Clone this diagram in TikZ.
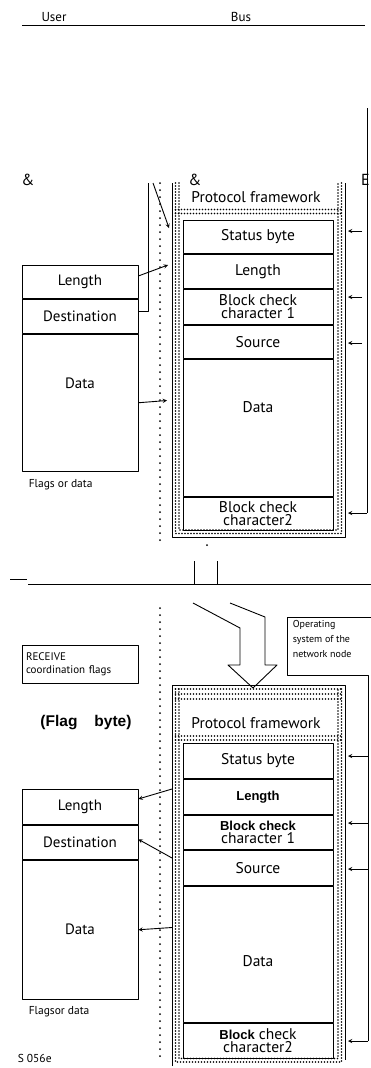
\documentclass[tikz,border=0pt]{standalone}
\usepackage{fontspec}
\setmainfont{PT Sans}
\newfontfamily\arialfont{Liberation Sans}
\usetikzlibrary{positioning}
\tikzset{
  field/.style={draw,minimum width=150pt,inner sep=0pt,align=center,font=\fontsize{15.5}{13.5}\selectfont},
  ufield/.style={draw,minimum width=116pt,inner sep=0pt,align=center,font=\fontsize{15}{13.5}\selectfont},
  dotband/.style={line width=1.9pt,line cap=round,dash pattern=on 0pt off 3pt},
  sepline/.style={line width=2pt,line cap=round,dash pattern=on 0pt off 7pt},
  small/.style={font=\fontsize{11.5}{15}\selectfont},
  amp/.style={font=\fontsize{16}{16}\selectfont}
}
\begin{document}
\begin{tikzpicture}[x=1pt,y=-1pt,>=stealth,line width=0.9pt,line join=round]
\useasboundingbox (0,0) rectangle (371,1068);
\node[small,font=\fontsize{13}{13}\selectfont] (user) at (54,17) {User};
\node[small,font=\fontsize{13}{13}\selectfont] (bus) at (241,17) {Bus};
\draw (22,25) -- (365,25);
\node[amp] (amp1) at (28,180) {\&};
\node[amp] (amp2) at (195,180) {\&};
\node[amp] (ech) at (365.5,180) {E};

% upper frame
\draw (172,183) -- (172,537) -- (345,537) -- (345,183);
\foreach \o in {0,3.5}
  \draw[dotband] (175.5+\o,183) -- (175.5+\o,533.5-\o) -- (341.5-\o,533.5-\o) -- (341.5-\o,183);
\foreach \y in {209.5,213.5}
  \draw[dotband] (175.5,\y) -- (341.5,\y);
\node[field,draw=none] (uproto) at (256,197) {Protocol framework};
\node[field,minimum height=33pt,anchor=north] (ustat) at (258,220) {Status byte};
\node[field,minimum height=34pt,below=0pt of ustat] (ulen) {Length};
\node[field,minimum height=35pt,below=0pt of ulen] (ubcc1) {Block check\\character 1};
\node[field,minimum height=33pt,below=0pt of ubcc1] (usrc) {Source};
\node[field,minimum height=137pt,below=0pt of usrc] (udata) {};
\node[field,draw=none] (udatatxt) at ([yshift=20pt]udata.center) {Data};
\node[field,minimum height=33pt,below=0pt of udata] (ubcc2) {Block check\\character2};

% upper user side
\node[ufield,minimum height=33pt,anchor=north] (uuLen) at (80,265) {Length};
\node[ufield,minimum height=34pt,below=0pt of uuLen] (uuDest) {Destination};
\node[ufield,minimum height=137pt,below=0pt of uuDest] (uuData) {};
\node[ufield,draw=none] (uuDatatxt) at ([yshift=19pt]uuData.center) {Data};
\node[small,anchor=west] (uflags) at (25,485) {Flags or data};
\draw[sepline] (160,183) -- (160,543);
\coordinate (ua) at (168,265);
\coordinate (ub) at (148,183);
\coordinate (uc) at (153,183);
\coordinate (ud) at (169,228);
\coordinate (ue) at (167,400.5);
\draw[->] ([yshift=6pt]uuLen.east) -- (ua);
\draw ([yshift=5pt]uuDest.east) -| (ub);
\draw[->] (uc) -- (ud);
\draw[->] (uuData.east) -- (ue);
\draw (367,108) -- (367,513);
\foreach \y in {231,297,343}
  \draw[->] (362,\y) -- (348,\y);
\draw[->] (367,513) -- (348,513);

% bus
\fill (207,545) circle (1pt);
\draw (194,561) -- (194,584) (217,561) -- (217,584);
\draw (28,584) -- (371,584);
\draw (10,579) -- (27,579);
\draw (193,603) -- (240,628) -- (240,665) -- (228,665) -- (253,688)
  -- (277,665) -- (265,665) -- (265,617) -- (230,603);
\draw (371,617) -- (287,617) -- (287,675) -- (368,675) -- (368,1041);
\node[align=left,anchor=north west,font=\fontsize{10}{15}\selectfont] (opsys) at (289,616.5) {Operating\\system of the\\network node};
\node[draw,align=left,font=\fontsize{11}{13}\selectfont,text width=108pt,inner xsep=4pt,minimum height=38pt] (recv) at (80,664) {RECEIVE\\coordination flags};
\node[font=\arialfont\bfseries\fontsize{15.5}{15.5}\selectfont] (flag) at (86,723) {(Flag\hspace{17pt}byte)};

% lower frame
\draw (172,1066) -- (172,685) -- (345,685) -- (345,1060);
\foreach \y in {689,694,699,736,740}
  \draw[dotband] (175.5,\y) -- (341.5,\y);
\foreach \o in {0,3.5}
  \draw[dotband] (175.5+\o,689) -- (175.5+\o,1062-\o) -- (341.5-\o,1062-\o) -- (341.5-\o,689);
\node[field,draw=none] (lproto) at (256,723) {Protocol framework};
\node[field,minimum height=35pt,anchor=north] (lstat) at (258,743) {Status byte};
\node[field,minimum height=35pt,below=0pt of lstat] (llen) {\arialfont\bfseries\fontsize{13}{13}\selectfont Length};
\node[field,minimum height=34pt,below=0pt of llen] (lbcc1) {{\arialfont\bfseries\fontsize{13}{13}\selectfont Block check}\\character 1};
\node[field,minimum height=35pt,below=0pt of lbcc1] (lsrc) {Source};
\node[field,minimum height=136pt,below=0pt of lsrc] (ldata) {};
\node[field,draw=none] (ldatatxt) at ([yshift=-7pt]ldata.center) {Data};
\node[field,minimum height=35pt,below=0pt of ldata] (lbcc2) {{\arialfont\bfseries\fontsize{13}{13}\selectfont Block} check\\character2};

% lower user side
\node[ufield,minimum height=35pt,anchor=north] (luLen) at (80,789) {Length};
\node[ufield,minimum height=34pt,below=0pt of luLen] (luDest) {Destination};
\node[ufield,minimum height=139pt,below=0pt of luDest] (luData) {Data};
\node[small,anchor=west] (lflags) at (25,1012) {Flagsor data};
\node[small,anchor=west] (fig) at (14,1058) {S 056e};
\draw[sepline] (160,608) -- (160,1062);
\coordinate (la) at (172,789);
\coordinate (lb) at (172,858);
\coordinate (lc) at (172,927.5);
\draw[->] (la) -- ([yshift=8pt]luLen.east);
\draw[->] (lb) -- ([yshift=3pt]luDest.east);
\draw[->] (lc) -- (luData.east);
\foreach \y in {756,823,869,1041}
  \draw[->] (368,\y) -- (348,\y);
\end{tikzpicture}
\end{document}
